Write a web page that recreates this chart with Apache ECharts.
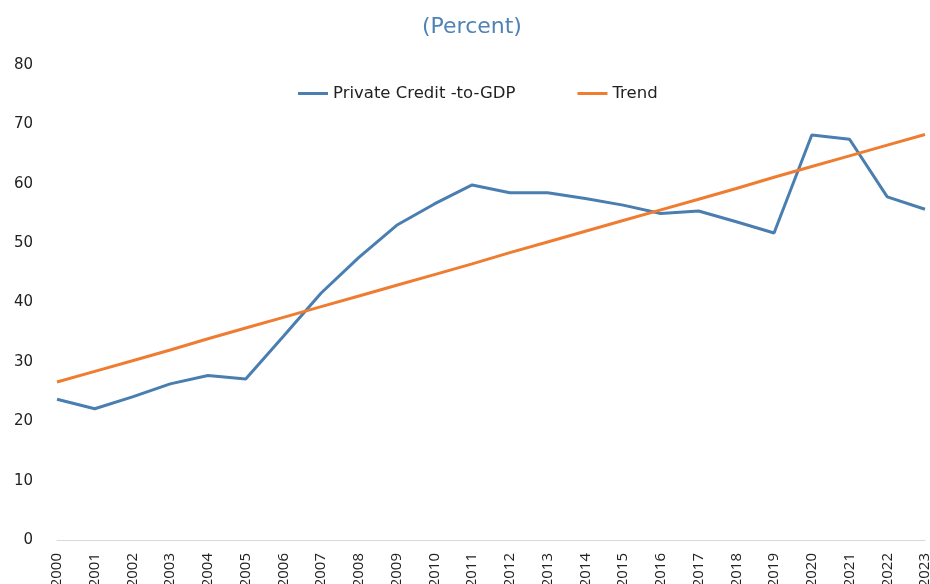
<!DOCTYPE html>
<html>
<head>
<meta charset="utf-8">
<script src="https://cdn.jsdelivr.net/npm/echarts@6/dist/echarts.min.js"></script>
<style>
  html, body { margin: 0; padding: 0; background: #fff; }
  #chart { width: 930px; height: 584px; }
</style>
</head>
<body>
<div id="chart"></div>
<script>
// Years on the horizontal axis
const years = ['2000','2001','2002','2003','2004','2005','2006','2007','2008','2009','2010','2011',
               '2012','2013','2014','2015','2016','2017','2018','2019','2020','2021','2022','2023'];

// Private credit as a share of GDP (percent)
const privateCredit = [23.7, 22.1, 24.1, 26.3, 27.7, 27.1, 34.3, 41.6, 47.6, 53.0, 56.6, 59.8,
                       58.5, 58.5, 57.5, 56.4, 55.0, 55.4, 53.6, 51.7, 68.2, 67.5, 57.8, 55.7];

// Linear trend (percent)
const trend = [26.6, 28.4, 30.2, 32.0, 33.9, 35.7, 37.5, 39.3, 41.1, 42.9, 44.7, 46.5,
               48.4, 50.2, 52.0, 53.8, 55.6, 57.4, 59.2, 61.1, 62.9, 64.7, 66.5, 68.3];

// Value-axis ticks
const yTicks = { min: 0, max: 80, interval: 10 };

const SANS = '"Open Sans", "Noto Sans", sans-serif';
const WIDE = '"DejaVu Sans", Verdana, sans-serif';
const BLUE = '#4a7eb1';
const ORANGE = '#ee7d31';

const chart = echarts.init(document.getElementById('chart'), null, { renderer: 'canvas' });
chart.setOption({
  animation: false,
  backgroundColor: '#ffffff',
  title: {
    text: '(Percent)',
    left: 417,
    top: 11,
    textStyle: { fontFamily: WIDE, fontSize: 22, fontWeight: 'normal', color: '#4f83b6' }
  },
  legend: {
    top: 80,
    left: 293,
    itemWidth: 30,
    itemHeight: 3,
    itemGap: 62,
    icon: 'rect',
    textStyle: { fontFamily: WIDE, fontSize: 16.5, color: '#222' },
    data: ['Private Credit -to-GDP', 'Trend']
  },
  grid: { left: 57, right: 5, top: 65, bottom: 44, containLabel: false, outerBoundsMode: 'none' },
  xAxis: {
    type: 'category',
    data: years,
    boundaryGap: false,
    axisLine: { show: true, lineStyle: { color: '#d9d9d9', width: 1 } },
    axisTick: { show: false },
    axisLabel: {
      rotate: 90,
      interval: 0,
      margin: 13,
      fontFamily: SANS,
      fontSize: 15,
      color: '#222'
    },
    splitLine: { show: false }
  },
  yAxis: {
    type: 'value',
    min: yTicks.min,
    max: yTicks.max,
    interval: yTicks.interval,
    axisLine: { show: false },
    axisTick: { show: false },
    splitLine: { show: false },
    axisLabel: { margin: 24, fontFamily: WIDE, fontSize: 15, color: '#222' }
  },
  series: [
    {
      name: 'Private Credit -to-GDP',
      type: 'line',
      data: privateCredit,
      symbol: 'none',
      lineStyle: { color: BLUE, width: 3 },
      itemStyle: { color: BLUE }
    },
    {
      name: 'Trend',
      type: 'line',
      data: trend,
      symbol: 'none',
      lineStyle: { color: ORANGE, width: 3 },
      itemStyle: { color: ORANGE }
    }
  ]
});
</script>
</body>
</html>
